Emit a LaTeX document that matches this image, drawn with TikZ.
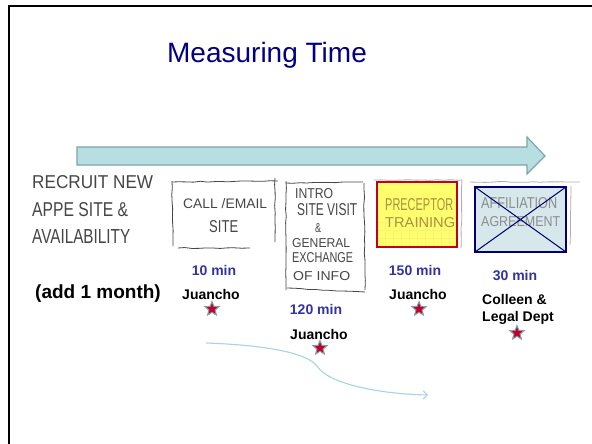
\documentclass[tikz,border=0pt]{standalone}
\usepackage{fontspec}
\usepackage{graphicx}
\setmainfont{Liberation Sans}
\usetikzlibrary{shapes.geometric,decorations.pathmorphing,arrows.meta}
\definecolor{titleblue}{RGB}{0,0,128}
\definecolor{minblue}{RGB}{51,51,160}
\definecolor{arrowfill}{RGB}{183,222,225}
\definecolor{arrowdraw}{RGB}{125,165,172}
\definecolor{sketch}{RGB}{70,70,70}
\definecolor{sketchlight}{RGB}{175,175,175}
\definecolor{curvecol}{RGB}{165,214,222}
\definecolor{starred}{RGB}{195,0,45}
\definecolor{stargray}{RGB}{135,160,168}
\definecolor{postit}{RGB}{255,255,110}
\definecolor{postitgrid}{RGB}{245,245,120}
\definecolor{postitborder}{RGB}{192,0,32}
\definecolor{postittext}{RGB}{170,145,65}
\definecolor{affill}{RGB}{214,232,236}
\definecolor{afborder}{RGB}{0,0,110}
\definecolor{aftext}{RGB}{140,140,140}
\newcommand{\hw}[3]{\resizebox{#1pt}{#2pt}{#3}}
\begin{document}
\begin{tikzpicture}[x=1pt,y=-1pt,
  sk/.style={draw=sketch, line width=0.8pt, decorate, decoration={random steps, segment length=7pt, amplitude=0.45pt}},
  sklight/.style={draw=sketchlight, line width=0.8pt, decorate, decoration={random steps, segment length=7pt, amplitude=0.45pt}},
  hand/.style={text=sketch, inner sep=0pt, anchor=base west},
  minlbl/.style={font=\bfseries\fontsize{14}{16}\selectfont, text=minblue, inner sep=0pt, anchor=base},
  who/.style={font=\bfseries\fontsize{14}{17}\selectfont, inner sep=0pt, anchor=base},
  starmark/.style={star, star points=5, star point ratio=2.3, minimum size=15pt, inner sep=0pt, fill=starred, draw=stargray, line width=1pt}
]
\useasboundingbox (0,0) rectangle (592,444);
\fill[white] (0,0) rectangle (592,444);
% frame
\draw[line width=2.5pt] (9,444) -- (9,6) -- (592,6);

% title
\node (title) [font=\fontsize{28}{30}\selectfont, text=titleblue, inner sep=0pt, anchor=base] at (267,63) {Measuring Time};

% big timeline arrow
\draw[fill=arrowfill, draw=arrowdraw, line width=1.2pt, line join=miter]
  (77,147) -- (527,147) -- (527,137) -- (545,156) -- (527,174) -- (527,165) -- (77,165) -- cycle;

% left handwritten text
\node (r1) [hand] at (32,188) {\hw{121}{13}{RECRUIT NEW}};
\node (r2) [hand] at (32,216) {\hw{96}{14}{APPE SITE \&}};
\node (r3) [hand] at (32,243) {\hw{98}{14}{AVAILABILITY}};

% box 1
\draw[sk] (172,182) -- (278,181);
\draw[sk] (172,181) -- (173,246);
\draw[sk] (275,178) -- (275,242);
\draw[sk] (178,248) -- (250,248);
\node (b1a) [hand] at (183,208) {\hw{84}{10}{CALL /EMAIL}};
\node (b1b) [hand] at (209,232) {\hw{29}{12}{SITE}};

% box 2
\draw[sk] (286,183) -- (363,182);
\draw[sk] (286,181) -- (286,290);
\draw[sk] (364,183) -- (365,290);
\draw[sk] (287,288) -- (365,292);
\node (b2a) [hand] at (295,198) {\hw{38}{10}{INTRO}};
\node (b2b) [hand] at (297,215) {\hw{60}{12}{SITE VISIT}};
\node (b2c) [hand] at (315,232) {\hw{6}{9}{\&}};
\node (b2d) [hand] at (292,247) {\hw{58}{9}{GENERAL}};
\node (b2e) [hand] at (292,262) {\hw{61}{10}{EXCHANGE}};
\node (b2f) [hand] at (293,280) {\hw{57}{9}{OF INFO}};

% box 3 (post-it)
\draw[sklight] (374,180) -- (462,180) -- (461,248);
\fill[postit] (377,182) rectangle (457,247);
\begin{scope}
\clip (377,215) rectangle (457,247);
\foreach \gx in {385,393,...,457} \draw[postitgrid, line width=0.6pt] (\gx,182) -- (\gx,247);
\foreach \gy in {222,230,...,247} \draw[postitgrid, line width=0.6pt] (377,\gy) -- (457,\gy);
\end{scope}
\node (b3a) [hand, text=postittext] at (385,210) {\hw{68}{12}{PRECEPTOR}};
\node (b3b) [hand, text=postittext] at (385,227) {\hw{70}{10}{TRAINING}};
\draw[postitborder, line width=2pt] (377,182) rectangle (457,247);

% box 4 (crossed out)
\draw[sklight] (470,182) -- (580,182);
\draw[sklight] (571,186) -- (570,245);
\fill[affill] (475,187) rectangle (566,252);
\node (b4a) [hand, text=aftext] at (481,208) {\hw{76}{11}{AFFILIATION}};
\node (b4b) [hand, text=aftext] at (481,226) {\hw{79}{10}{AGREEMENT}};
\draw[afborder, line width=1pt] (475,187) -- (566,252) (566,187) -- (475,252);
\draw[afborder, line width=2pt] (475,187) rectangle (566,252);

% labels
\node (m1) [minlbl] at (214,275) {10 min};
\node (w1) [who] at (211,299) {Juancho};
\node (s1) [starmark] at (212,309) {};

\node (m2) [minlbl] at (316,314) {120 min};
\node (w2) [who] at (319,339) {Juancho};
\node (s2) [starmark] at (320,348) {};

\node (m3) [minlbl] at (415,275) {150 min};
\node (w3) [who] at (418,299) {Juancho};
\node (s3) [starmark] at (419,309) {};

\node (m4) [minlbl] at (515,280) {30 min};
\node (w4a) [who, anchor=base west] at (482,304) {Colleen \&};
\node (w4b) [who, anchor=base west] at (482,321) {Legal Dept};
\node (s4) [starmark] at (517,333) {};

\node (add) [font=\bfseries\fontsize{19}{21}\selectfont, inner sep=0pt, anchor=base] at (98,298) {(add 1 month)};

% flow curve
\coordinate (cs) at (206,343);
\coordinate (cm) at (317,366);
\coordinate (ce) at (428,395);
\draw[curvecol, line width=1.1pt, -{Straight Barb[length=4pt,width=8pt]}]
  (cs) .. controls (262,345) and (306,352) .. (cm) .. controls (328,384) and (380,394) .. (ce);
\end{tikzpicture}
\end{document}
